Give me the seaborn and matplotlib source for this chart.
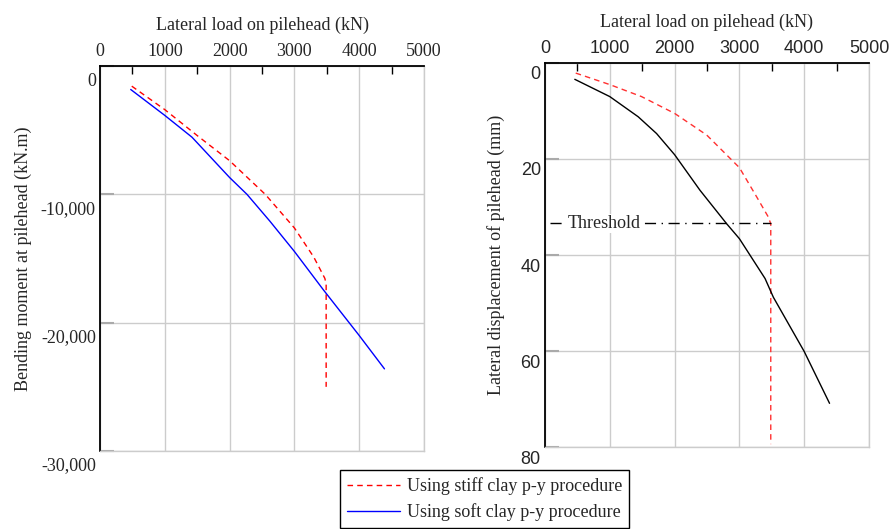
import matplotlib
matplotlib.use("Agg")
import pandas as pd
import matplotlib.pyplot as plt
import matplotlib.transforms as mtrans
from matplotlib.lines import Line2D
from matplotlib.ticker import MultipleLocator, FuncFormatter
import seaborn as sns

# --- data ---
load_stiff_m = [490, 1000, 1500, 2000, 2550, 3000, 3300, 3470, 3490, 3490]
moment_stiff = [-1570, -3400, -5420, -7380, -10000, -12620, -14900, -16550, -17000, -25000]
load_soft_m = [474, 1000, 1420, 2000, 2268, 2623, 3000, 3450, 4000, 4390]
moment_soft = [-1830, -3850, -5550, -8690, -10000, -12100, -14450, -17460, -21000, -23600]

load_stiff_d = [474, 1000, 1490, 2000, 2495, 3000, 3267, 3447, 3484, 3484]
disp_stiff = [2.1, 4.5, 7.0, 10.5, 15.0, 21.8, 27.9, 32.1, 33.5, 79.4]
load_soft_d = [460, 1000, 1438, 1722, 2000, 2391, 2804, 3000, 3396, 3524, 4000, 4391]
disp_soft = [3.4, 7.0, 11.2, 14.7, 19.1, 26.5, 33.5, 36.6, 44.9, 48.8, 60.1, 70.9]

threshold_disp = 33.4
threshold_x = [80, 3484]

labels = ["Using stiff clay p-y procedure", "Using soft clay p-y procedure"]

sns.set_style("white")
plt.rcParams["font.family"] = ["Liberation Serif", "DejaVu Serif"]

fig = plt.figure(figsize=(8.92, 5.29), dpi=100)
ax1 = fig.add_axes([100 / 892, 1 - 451 / 529, 324 / 892, 385 / 529])
ax2 = fig.add_axes([545 / 892, 1 - 447 / 529, 324 / 892, 384 / 529])

df_sm = pd.DataFrame({"x": load_stiff_m, "y": moment_stiff})
df_fm = pd.DataFrame({"x": load_soft_m, "y": moment_soft})
df_sd = pd.DataFrame({"x": load_stiff_d, "y": disp_stiff})
df_fd = pd.DataFrame({"x": load_soft_d, "y": disp_soft})

sns.lineplot(data=df_sm, x="x", y="y", ax=ax1, sort=False, estimator=None,
             color="#ff0000", linestyle=(0, (4, 3)), linewidth=1.0)
sns.lineplot(data=df_fm, x="x", y="y", ax=ax1, sort=False, estimator=None,
             color="#0000ff", linewidth=1.0)
sns.lineplot(data=df_sd, x="x", y="y", ax=ax2, sort=False, estimator=None,
             color="#ff3030", linestyle=(0, (4, 3)), linewidth=1.0)
sns.lineplot(data=df_fd, x="x", y="y", ax=ax2, sort=False, estimator=None,
             color="black", linewidth=1.0)

ax2.plot(threshold_x, [threshold_disp, threshold_disp], color="black",
         linewidth=1.0, linestyle=(0, (8, 4, 1, 4)))
ax2.text(910, threshold_disp, "Threshold", ha="center", va="center", fontsize=13,
         bbox=dict(facecolor="white", edgecolor="none", pad=0.5))

grid_col = "#cccccc"


def style_axes(ax, tick_family, y_shift_px):
    ax.set_xlim(0, 5000)
    ax.xaxis.set_major_locator(MultipleLocator(1000))
    ax.xaxis.set_minor_locator(MultipleLocator(500))
    ax.xaxis.tick_top()
    ax.xaxis.set_label_position("top")
    ax.grid(True, which="major", color=grid_col, linewidth=1.0)
    for side in ["top", "left"]:
        ax.spines[side].set_color("black")
        ax.spines[side].set_linewidth(1.3)
    for side in ["bottom", "right"]:
        ax.spines[side].set_color(grid_col)
        ax.spines[side].set_linewidth(1.0)
    ax.tick_params(axis="x", which="major", top=True, bottom=False, direction="in",
                   length=0, pad=4, labelsize=13)
    ax.tick_params(axis="x", which="minor", top=True, bottom=False, direction="in",
                   length=6, width=1.0, color="black")
    ax.tick_params(axis="y", which="major", left=True, direction="in", length=10,
                   width=1.5, color="#aaaaaa", pad=3, labelsize=13)
    for lab in ax.get_xticklabels() + ax.get_yticklabels():
        lab.set_family(tick_family)
    offset = mtrans.ScaledTranslation(0, -y_shift_px / 100, fig.dpi_scale_trans)
    for lab in ax.get_yticklabels():
        lab.set_transform(lab.get_transform() + offset)


ax1.set_ylim(-30000, 0)
ax1.yaxis.set_major_locator(MultipleLocator(10000))
ax1.yaxis.set_major_formatter(FuncFormatter(lambda v, p: "0" if v == 0 else f"{int(v):,}"))
ax1.set_xlabel("Lateral load on pilehead (kN)", fontsize=13, labelpad=10)
ax1.set_ylabel("Bending moment at pilehead (kN.m)", fontsize=13, labelpad=6)
style_axes(ax1, ["Liberation Serif"], 13)

ax2.set_ylim(80, 0)
ax2.yaxis.set_major_locator(MultipleLocator(20))
ax2.set_xlabel("Lateral load on pilehead (kN)", fontsize=13, labelpad=10)
ax2.set_ylabel("Lateral displacement of pilehead (mm)", fontsize=13, labelpad=11)
style_axes(ax2, ["Liberation Sans"], 10)

handles = [Line2D([0], [0], color="#ff0000", linestyle=(0, (4, 3)), linewidth=1.0),
           Line2D([0], [0], color="#0000ff", linewidth=1.0)]
leg = fig.legend(handles, labels, loc="upper left",
                 bbox_to_anchor=(340 / 892, 1 - 470 / 529), fontsize=13,
                 frameon=True, fancybox=False, edgecolor="black", framealpha=1,
                 borderaxespad=0, handlelength=2.9, labelspacing=0.45,
                 borderpad=0.4, handletextpad=0.4)
leg.get_frame().set_linewidth(1.0)

fig.savefig("out.png", dpi=100)
